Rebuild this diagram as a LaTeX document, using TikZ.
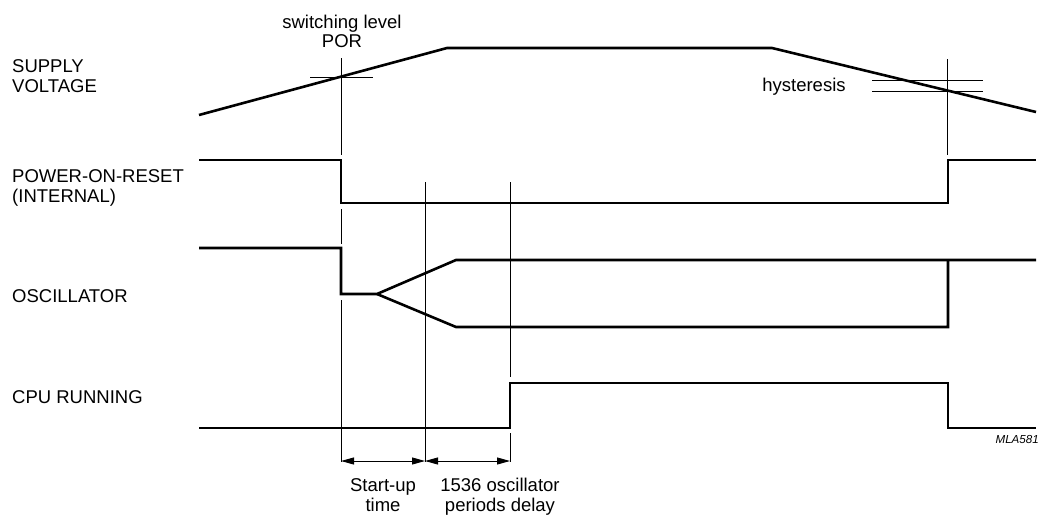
\documentclass[tikz,border=0pt]{standalone}
\usepackage{fontspec}
\setmainfont{Liberation Sans}
\usetikzlibrary{arrows.meta}
\begin{document}
\begin{tikzpicture}[x=1pt,y=-1pt,
  sig/.style={line width=2.6pt, line join=miter},
  thinl/.style={line width=0.9pt},
  lbl/.style={font=\fontsize{18.5}{20}\selectfont, inner sep=0pt, anchor=base west},
  clbl/.style={font=\fontsize{18.5}{20}\selectfont, inner sep=0pt, anchor=base},
  dim/.style={line width=0.9pt, {Triangle[length=13pt,width=7pt]}-{Triangle[length=13pt,width=7pt]}}]
\useasboundingbox (0,0) rectangle (1041,514);
% signals
\draw[sig] (199,115) -- (447,48) -- (772,48) -- (1036,112);
\draw[sig] (199,160) -- (341,160) -- (341,203) -- (948,203) -- (948,160) -- (1036,160);
\draw[sig] (199,248) -- (341,248) -- (341,294) -- (377,294) -- (456,260) -- (1036,260);
\draw[sig] (377,294) -- (456,327) -- (948,327) -- (948,260);
\draw[sig] (199,428) -- (510,428) -- (510,383) -- (948,383) -- (948,428) -- (1036,428);
% thin markers
\draw[thinl] (341,58) -- (341,155);
\draw[thinl] (341,209) -- (341,244);
\draw[thinl] (341,300) -- (341,462);
\draw[thinl] (310,77) -- (373,77);
\draw[thinl] (425,182) -- (425,462);
\draw[thinl] (510,182) -- (510,377);
\draw[thinl] (510,433) -- (510,462);
\draw[thinl] (947,59) -- (947,155);
\draw[thinl] (872,80) -- (983,80);
\draw[thinl] (872,91) -- (983,91);
% dimension arrows
\coordinate (a0) at (341,461);
\coordinate (a1) at (425,461);
\coordinate (a2) at (510,461);
\draw[dim] (a0) -- (a1);
\draw[dim] (a1) -- (a2);
% labels
\node[lbl] (supply1) at (12,72) {SUPPLY};
\node[lbl] (supply2) at (12,92) {VOLTAGE};
\node[lbl] (por1) at (12,182) {POWER-ON-RESET};
\node[lbl] (por2) at (12,202) {(INTERNAL)};
\node[lbl] (osc) at (12,302) {OSCILLATOR};
\node[lbl] (cpu) at (12,403) {CPU RUNNING};
\node[clbl] (sw1) at (342,28) {switching level};
\node[clbl] (sw2) at (342,47) {POR};
\node[clbl] (hyst) at (804,91) {hysteresis};
\node[clbl] (st1) at (383,491) {Start-up};
\node[clbl] (st2) at (383,511) {time};
\node[clbl] (dl1) at (500,491) {1536 oscillator};
\node[clbl] (dl2) at (500,511) {periods delay};
\node[font=\fontsize{11.6}{13}\selectfont\itshape, inner sep=0pt, anchor=base east] (id) at (1039,443) {MLA581};
\end{tikzpicture}
\end{document}
